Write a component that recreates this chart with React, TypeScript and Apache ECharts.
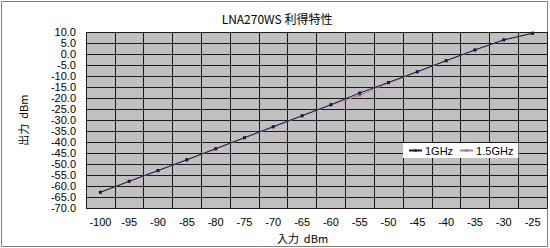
import React, { useEffect, useRef } from "react";
import * as echarts from "echarts";

const inputLevels = ["-100", "-95", "-90", "-85", "-80", "-75", "-70", "-65", "-60", "-55", "-50", "-45", "-40", "-35", "-30", "-25"];
const out1GHz = [-62.8, -57.8, -52.9, -48.0, -43.0, -38.0, -33.0, -28.0, -23.0, -17.7, -12.9, -8.0, -3.0, 1.9, 6.4, 9.4];
const out15GHz = [-62.8, -57.9, -53.1, -48.2, -43.2, -38.2, -33.2, -28.2, -23.2, -18.7, -13.2, -8.2, -3.2, 1.7, 6.5, 9.5];
const seriesNames = ["1GHz", "1.5GHz"];
const titleText = "LNA270WS 利得特性";
const xName = "入力  dBm";
const yName = "出力  dBm";

const FONT = "'Liberation Sans', 'Noto Sans CJK JP', sans-serif";

export default function App() {
  const ref = useRef<HTMLDivElement>(null);
  useEffect(() => {
    document.body.style.margin = "0";
    const chart = echarts.init(ref.current!, null, { renderer: "svg" });
    chart.setOption({
      animation: false,
      backgroundColor: "#ffffff",
      textStyle: { fontFamily: FONT },
      title: {
        text: titleText,
        left: 272,
        top: 7,
        textAlign: "center",
        textStyle: { fontSize: 12, fontWeight: "normal", color: "#000", fontFamily: "'Noto Sans CJK JP', sans-serif" },
      },
      graphic: [
        {
          type: "rect",
          shape: { x: 1.5, y: 1.5, width: 546, height: 245 },
          style: { fill: "none", stroke: "#808080", lineWidth: 1 },
          z: 0,
        },
      ],
      grid: { left: 86, right: 3, top: 32, bottom: 36, show: true, backgroundColor: "#c0c0c0", borderWidth: 0 },
      legend: {
        data: seriesNames,
        left: 403,
        top: 143,
        backgroundColor: "#ffffff",
        padding: [2, 5, 2, 5],
        itemGap: 6,
        itemWidth: 13,
        itemHeight: 3,
        textStyle: { fontSize: 11, color: "#000", fontFamily: FONT, padding: [0, 0, 0, -2] },
      },
      xAxis: {
        type: "category",
        data: inputLevels,
        boundaryGap: true,
        name: xName,
        nameLocation: "middle",
        nameGap: 22,
        nameTextStyle: { fontSize: 11, color: "#000", padding: [0, 28, 0, 0], fontFamily: "'Noto Sans CJK JP', sans-serif" },
        axisLine: { show: false },
        axisTick: { show: false },
        axisLabel: { fontSize: 11, color: "#000", margin: 8, interval: 0 },
        splitLine: { show: true, interval: 0, lineStyle: { color: "#1a1a1a", width: 1 } },
      },
      yAxis: {
        type: "value",
        min: -70,
        max: 10,
        interval: 5,
        name: yName,
        nameLocation: "middle",
        nameRotate: 90,
        nameGap: 58,
        nameTextStyle: { fontSize: 11, color: "#000", fontFamily: "'Noto Sans CJK JP', sans-serif" },
        axisLine: { show: false },
        axisTick: { show: false },
        axisLabel: { fontSize: 11, color: "#000", margin: 10, formatter: (v: number) => v.toFixed(1) },
        splitLine: { show: true, lineStyle: { color: "#1a1a1a", width: 1 } },
      },
      series: [
        {
          name: seriesNames[0],
          type: "line",
          data: out1GHz,
          symbol: "rect",
          symbolSize: 3,
          itemStyle: { color: "#1a1a4a" },
          lineStyle: { color: "#1a1a4a", width: 1 },
          z: 3,
        },
        {
          name: seriesNames[1],
          type: "line",
          data: out15GHz,
          symbol: "rect",
          symbolSize: 3,
          itemStyle: { color: "#c06080" },
          lineStyle: { color: "#c07090", width: 1 },
          z: 2,
        },
      ],
    });
    return () => chart.dispose();
  }, []);
  return <div ref={ref} style={{ position: "absolute", left: 0, top: 0, width: 550, height: 248 }} />;
}
